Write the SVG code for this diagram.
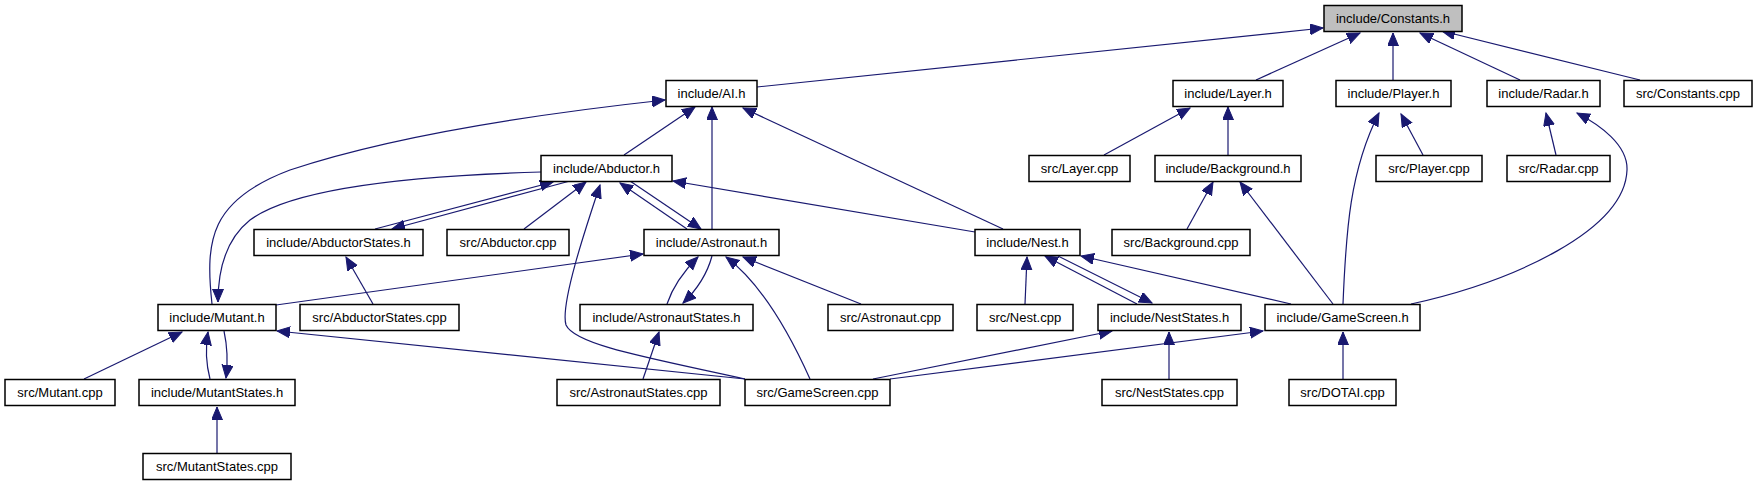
<svg xmlns="http://www.w3.org/2000/svg" width="1757" height="485" viewBox="0 0 1757 485">
<style>
.n rect{fill:#fff;stroke:#000;stroke-width:1.5}
.n.root rect{fill:#bfbfbf}
.n text{font-family:"Liberation Sans",Arial,sans-serif;font-size:13px;fill:#000;text-anchor:middle}
.e path{fill:none;stroke:#191970;stroke-width:1.2;marker-end:url(#ah)}
</style>
<defs>
<marker id="ah" markerUnits="userSpaceOnUse" markerWidth="15" markerHeight="13" refX="13" refY="5.5" orient="auto">
<path d="M0,0 L13,5.5 L0,11 z" fill="#191970" stroke="#191970" stroke-width="1"/>
</marker>
</defs>
<rect width="1757" height="485" fill="#fff"/>
<g id="connectors" class="e">
<path d="M757,87 L1323,28"/>
<path d="M1256,80 L1360,33"/>
<path d="M1393,80 L1393,33"/>
<path d="M1520,80 L1420,33"/>
<path d="M1640,80 L1442,31"/>
<path d="M1104,155 L1190,108"/>
<path d="M1228,155 L1228,107"/>
<path d="M1187,229 L1213,182"/>
<path d="M1333,304 L1240,182"/>
<path d="M1343,304 C1346,230 1350,170 1379,113"/>
<path d="M1423,155 L1401,114"/>
<path d="M1556,155 L1546,113"/>
<path d="M1411,304 C1515,281 1625,230 1627,170 C1628,145 1600,125 1577,113"/>
<path d="M1003,229 L743,108"/>
<path d="M975,232 L673,181"/>
<path d="M1291,304 L1081,256"/>
<path d="M1025,304 L1027,257"/>
<path d="M1137,304 L1045,256"/>
<path d="M1058,256 L1152,303"/>
<path d="M1169,379 L1169,332"/>
<path d="M873,379 L1112,331"/>
<path d="M890,379 L1263,331"/>
<path d="M1343,379 L1343,332"/>
<path d="M624,155 L695,107"/>
<path d="M712,229 L712,107"/>
<path d="M212,304 C205,240 210,200 290,170 C380,140 500,118 665,100"/>
<path d="M541,172 C400,176 290,190 250,220 C225,240 218,270 218,302"/>
<path d="M375,229 L553,182"/>
<path d="M570,181 L392,229"/>
<path d="M524,229 L586,182"/>
<path d="M745,379 C650,358 575,345 566,325 C560,305 585,230 600,185"/>
<path d="M687,229 L620,183"/>
<path d="M630,181 L701,229"/>
<path d="M276,305 L643,254"/>
<path d="M667,304 Q675,280 698,257"/>
<path d="M712,256 Q705,282 683,303"/>
<path d="M810,379 Q770,290 726,257"/>
<path d="M861,304 L743,257"/>
<path d="M643,379 L659,332"/>
<path d="M84,379 L182,332"/>
<path d="M210,379 Q204,356 208,332"/>
<path d="M224,331 Q229,354 226,378"/>
<path d="M217,453 L217,407"/>
<path d="M373,304 L346,257"/>
<path d="M745,379 L277,331"/>
</g>
<g id="n_constants" class="n root"><rect x="1324" y="5.5" width="138" height="26"/><text x="1393" y="22.5">include/Constants.h</text></g>
<g id="n_ai" class="n"><rect x="666" y="80.5" width="91" height="26"/><text x="711.5" y="97.5">include/AI.h</text></g>
<g id="n_layer" class="n"><rect x="1173" y="80.5" width="110" height="26"/><text x="1228" y="97.5">include/Layer.h</text></g>
<g id="n_player" class="n"><rect x="1336" y="80.5" width="115" height="26"/><text x="1393.5" y="97.5">include/Player.h</text></g>
<g id="n_radar" class="n"><rect x="1487" y="80.5" width="113" height="26"/><text x="1543.5" y="97.5">include/Radar.h</text></g>
<g id="n_constcpp" class="n"><rect x="1624" y="80.5" width="128" height="26"/><text x="1688" y="97.5">src/Constants.cpp</text></g>
<g id="n_abductor" class="n"><rect x="541" y="155.5" width="131" height="26"/><text x="606.5" y="172.5">include/Abductor.h</text></g>
<g id="n_layercpp" class="n"><rect x="1029" y="155.5" width="101" height="26"/><text x="1079.5" y="172.5">src/Layer.cpp</text></g>
<g id="n_background" class="n"><rect x="1155" y="155.5" width="146" height="26"/><text x="1228" y="172.5">include/Background.h</text></g>
<g id="n_playercpp" class="n"><rect x="1376" y="155.5" width="106" height="26"/><text x="1429" y="172.5">src/Player.cpp</text></g>
<g id="n_radarcpp" class="n"><rect x="1507" y="155.5" width="103" height="26"/><text x="1558.5" y="172.5">src/Radar.cpp</text></g>
<g id="n_abductorstates" class="n"><rect x="254" y="229.5" width="169" height="26"/><text x="338.5" y="246.5">include/AbductorStates.h</text></g>
<g id="n_abductorcpp" class="n"><rect x="447" y="229.5" width="122" height="26"/><text x="508" y="246.5">src/Abductor.cpp</text></g>
<g id="n_astronaut" class="n"><rect x="644" y="229.5" width="135" height="26"/><text x="711.5" y="246.5">include/Astronaut.h</text></g>
<g id="n_nest" class="n"><rect x="975" y="229.5" width="105" height="26"/><text x="1027.5" y="246.5">include/Nest.h</text></g>
<g id="n_backgroundcpp" class="n"><rect x="1112" y="229.5" width="138" height="26"/><text x="1181" y="246.5">src/Background.cpp</text></g>
<g id="n_mutant" class="n"><rect x="158" y="304.5" width="118" height="26"/><text x="217" y="321.5">include/Mutant.h</text></g>
<g id="n_abductorstatescpp" class="n"><rect x="300" y="304.5" width="159" height="26"/><text x="379.5" y="321.5">src/AbductorStates.cpp</text></g>
<g id="n_astronautstates" class="n"><rect x="580" y="304.5" width="173" height="26"/><text x="666.5" y="321.5">include/AstronautStates.h</text></g>
<g id="n_astronautcpp" class="n"><rect x="828" y="304.5" width="125" height="26"/><text x="890.5" y="321.5">src/Astronaut.cpp</text></g>
<g id="n_nestcpp" class="n"><rect x="977" y="304.5" width="96" height="26"/><text x="1025" y="321.5">src/Nest.cpp</text></g>
<g id="n_neststates" class="n"><rect x="1098" y="304.5" width="143" height="26"/><text x="1169.5" y="321.5">include/NestStates.h</text></g>
<g id="n_gamescreen" class="n"><rect x="1265" y="304.5" width="155" height="26"/><text x="1342.5" y="321.5">include/GameScreen.h</text></g>
<g id="n_mutantcpp" class="n"><rect x="5" y="379.5" width="110" height="26"/><text x="60" y="396.5">src/Mutant.cpp</text></g>
<g id="n_mutantstates" class="n"><rect x="139" y="379.5" width="156" height="26"/><text x="217" y="396.5">include/MutantStates.h</text></g>
<g id="n_astronautstatescpp" class="n"><rect x="557" y="379.5" width="163" height="26"/><text x="638.5" y="396.5">src/AstronautStates.cpp</text></g>
<g id="n_gamescreencpp" class="n"><rect x="745" y="379.5" width="145" height="26"/><text x="817.5" y="396.5">src/GameScreen.cpp</text></g>
<g id="n_neststatescpp" class="n"><rect x="1102" y="379.5" width="135" height="26"/><text x="1169.5" y="396.5">src/NestStates.cpp</text></g>
<g id="n_dotaicpp" class="n"><rect x="1289" y="379.5" width="107" height="26"/><text x="1342.5" y="396.5">src/DOTAI.cpp</text></g>
<g id="n_mutantstatescpp" class="n"><rect x="143" y="453.5" width="148" height="26"/><text x="217" y="470.5">src/MutantStates.cpp</text></g>
</svg>
